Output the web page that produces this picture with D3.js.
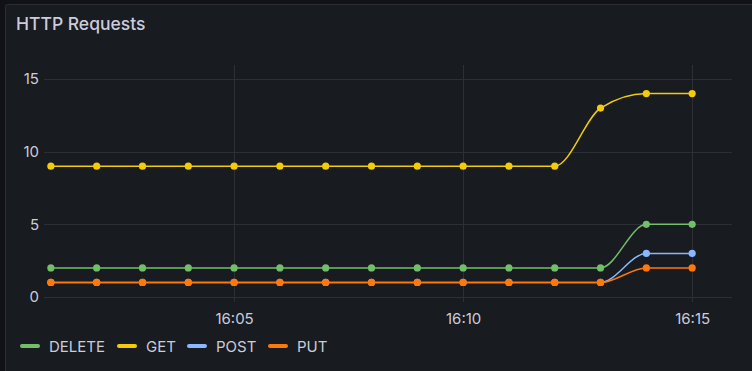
<!DOCTYPE html>
<html>
<head>
<meta charset="utf-8">
<script src="https://cdn.jsdelivr.net/npm/d3@7"></script>
<style>
  html, body { margin: 0; padding: 0; background: #111217; }
  svg { display: block; font-family: Inter, "Noto Sans", sans-serif; }
</style>
</head>
<body>
<svg class="canvas" width="752" height="371"></svg>
<script>
// minutes past 16:00
var minutes = [1, 2, 3, 4, 5, 6, 7, 8, 9, 10, 11, 12, 13, 14, 15];
var seriesNames = ['DELETE', 'GET', 'POST', 'PUT'];
var deleteValues = [2, 2, 2, 2, 2, 2, 2, 2, 2, 2, 2, 2, 2, 5, 5];
var getValues = [9, 9, 9, 9, 9, 9, 9, 9, 9, 9, 9, 9, 13, 14, 14];
var postValues = [1, 1, 1, 1, 1, 1, 1, 1, 1, 1, 1, 1, 1, 3, 3];
var putValues = [1, 1, 1, 1, 1, 1, 1, 1, 1, 1, 1, 1, 1, 2, 2];
var yTicks = [0, 5, 10, 15];
var xTickMinutes = [5, 10, 15];

var colors = { DELETE: '#73bf69', GET: '#f2cc0c', POST: '#8ab8ff', PUT: '#ff780a' };
var valuesBySeries = { DELETE: deleteValues, GET: getValues, POST: postValues, PUT: putValues };

var svg = d3.select('.canvas');
var W = 752, H = 371;
var plot = { left: 44, right: 732, top: 65, bottom: 297 };

function at(m) { return new Date(2024, 0, 1, 16, 0, 0).getTime() + m * 60000; }

// panel
svg.append('rect')
	.attr('x', 5.5).attr('y', 4.5)
	.attr('width', W + 10).attr('height', H + 10)
	.attr('rx', 2)
	.attr('fill', '#181b1f')
	.attr('stroke', '#2a2d33');

svg.append('text')
	.attr('x', 16).attr('y', 30)
	.attr('fill', '#ccccdc')
	.attr('font-size', 17.5).attr('font-weight', 500)
	.text('HTTP Requests');

var x = d3.scaleTime()
	.domain([new Date(at(0.85)), new Date(at(15.87))])
	.range([plot.left, plot.right]);
var y = d3.scaleLinear()
	.domain([0, 15])
	.range([plot.bottom, 79]);

// grid
var grid = svg.append('g').attr('stroke', '#2c2f34').attr('stroke-width', 1);
grid.selectAll('line.h')
	.data(yTicks)
	.enter().append('line')
	.attr('x1', plot.left).attr('x2', plot.right)
	.attr('y1', function(d) { return Math.round(y(d)) + 0.5; })
	.attr('y2', function(d) { return Math.round(y(d)) + 0.5; });
grid.selectAll('line.v')
	.data(xTickMinutes)
	.enter().append('line')
	.attr('x1', function(d) { return Math.round(x(at(d))) + 0.5; })
	.attr('x2', function(d) { return Math.round(x(at(d))) + 0.5; })
	.attr('y1', plot.top).attr('y2', plot.bottom + 5);

// axes
var yAxis = svg.append('g')
	.attr('transform', 'translate(' + (plot.left - 5) + ',0)')
	.call(d3.axisLeft(y).tickValues(yTicks).tickSize(0).tickPadding(0));
var xAxis = svg.append('g')
	.attr('transform', 'translate(0,' + (plot.bottom + 5) + ')')
	.call(d3.axisBottom(x)
		.tickValues(xTickMinutes.map(function(m) { return new Date(at(m)); }))
		.tickFormat(d3.timeFormat('%H:%M'))
		.tickSize(0).tickPadding(11));
[yAxis, xAxis].forEach(function(a) {
	a.select('.domain').remove();
	a.selectAll('text')
		.attr('fill', '#ccccdc')
		.attr('font-size', 15)
		.attr('font-family', 'Inter, "Noto Sans", sans-serif');
});

// series
var line = d3.line()
	.x(function(d) { return x(at(d.m)); })
	.y(function(d) { return y(d.v); })
	.curve(d3.curveMonotoneX);

seriesNames.forEach(function(name) {
	var pts = minutes.map(function(m, i) { return { m: m, v: valuesBySeries[name][i] }; });
	var g = svg.append('g');
	g.append('path')
		.datum(pts)
		.attr('d', line)
		.attr('fill', 'none')
		.attr('stroke', colors[name])
		.attr('stroke-width', 1.5);
	g.selectAll('circle')
		.data(pts)
		.enter().append('circle')
		.attr('cx', function(d) { return x(at(d.m)); })
		.attr('cy', function(d) { return y(d.v); })
		.attr('r', 3.6)
		.attr('fill', colors[name]);
});

// legend
var legendX = [21, 118, 188, 269];
var legend = svg.append('g').selectAll('g')
	.data(seriesNames)
	.enter().append('g')
	.attr('transform', function(d, i) { return 'translate(' + legendX[i] + ',346)'; });
legend.append('line')
	.attr('x1', 1).attr('x2', 17)
	.attr('stroke', function(d) { return colors[d]; })
	.attr('stroke-width', 4)
	.attr('stroke-linecap', 'round');
legend.append('text')
	.attr('x', 28).attr('y', 5.5)
	.attr('fill', '#ccccdc')
	.attr('font-size', 15)
	.text(function(d) { return d; });
</script>
</body>
</html>
